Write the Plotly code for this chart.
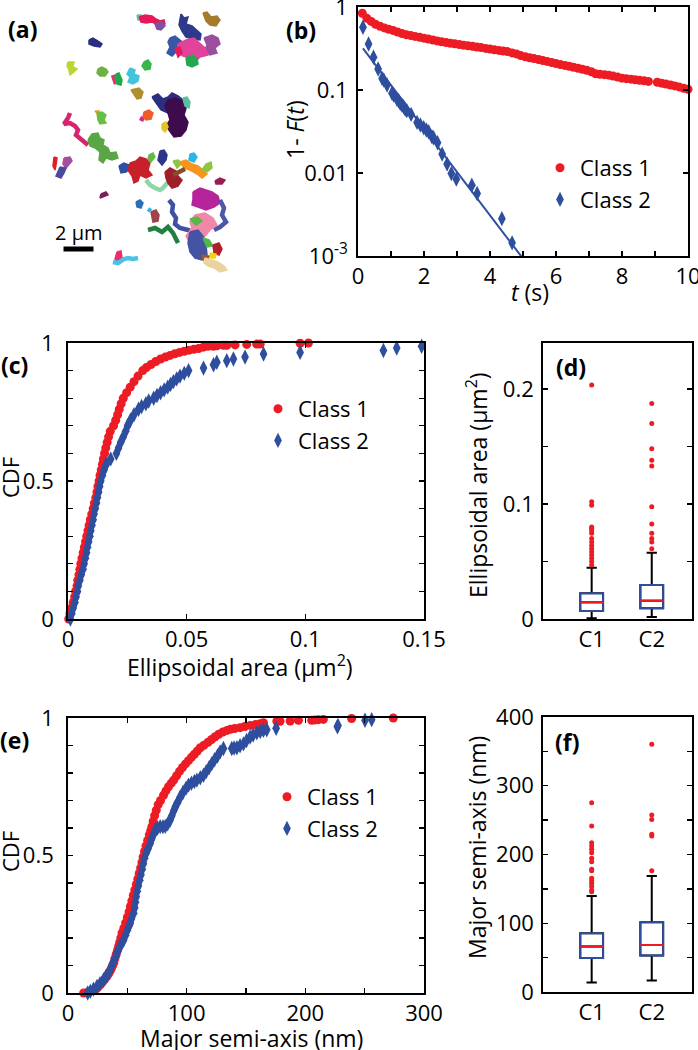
import plotly.graph_objects as go

FONT = "Open Sans"
W, H = 698, 1050
RED = "#ED1C24"
BLUE = "#2E4E9E"

# ---------------- (a) trajectories, camera-pixel coordinates ----------------
PX_PER_UM = 15
SCALEBAR_UM = 2
SCALEBAR_X0, SCALEBAR_Y = 63.5, 249
# (colour, kind: f = filled area / l = path, points)
TRACKS = [
    ("#6cc3a0", "f", [(137, 15), (141, 15), (142, 19), (138, 20)]),
    ("#e8195a", "f", [(139, 17), (145, 15), (152, 16), (156, 19), (160, 21), (164, 20), (165, 24), (158, 25), (152, 22), (146, 23), (141, 22)]),
    ("#7e52a0", "f", [(155, 24), (162, 22), (165, 26), (161, 30), (157, 29)]),
    ("#a67c2c", "f", [(203, 13), (207, 12), (211, 17), (217, 16), (220, 20), (216, 26), (210, 25), (206, 21)]),
    ("#2d3a8c", "f", [(181, 14), (184, 18), (188, 17), (186, 24), (192, 26), (196, 30), (201, 34), (200, 40), (193, 39), (186, 37), (182, 31), (179, 25)]),
    ("#3a57a7", "f", [(170, 38), (175, 36), (180, 40), (185, 44), (182, 50), (176, 52), (172, 56), (167, 53), (170, 47), (168, 42)]),
    ("#9b4ea0", "f", [(204, 38), (212, 35), (218, 38), (220, 44), (215, 48), (217, 53), (210, 55), (205, 50), (207, 45)]),
    ("#e0449a", "f", [(178, 44), (186, 40), (194, 38), (200, 44), (205, 48), (208, 55), (200, 57), (195, 62), (190, 58), (183, 56), (177, 52)]),
    ("#e8195a", "f", [(175, 48), (180, 47), (182, 53), (178, 57)]),
    ("#25a650", "f", [(186, 58), (192, 55), (197, 58), (198, 64), (192, 67), (187, 65)]),
    ("#2b2f7f", "f", [(89, 40), (93, 38), (98, 41), (102, 44), (100, 47), (94, 46), (89, 44)]),
    ("#bcd631", "f", [(68, 62), (74, 62), (73, 67), (77, 69), (74, 72), (70, 75), (69, 70), (67, 66)]),
    ("#72b043", "f", [(98, 69), (102, 67), (106, 69), (108, 72), (105, 76), (100, 76), (97, 73)]),
    ("#e8306a", "l", [(113, 75), (115, 80), (116, 84)]),
    ("#1fa84f", "f", [(116, 74), (119, 73), (122, 80), (121, 85), (117, 84), (115, 78)]),
    ("#43c3dc", "f", [(130, 68), (135, 70), (134, 74), (139, 76), (138, 81), (133, 84), (128, 82), (130, 77), (127, 74)]),
    ("#39b54a", "f", [(144, 62), (148, 60), (151, 64), (150, 69), (145, 70), (142, 66)]),
    ("#b08d2e", "f", [(131, 90), (139, 88), (143, 92), (141, 98), (137, 99)]),
    ("#2b2f7f", "f", [(152, 97), (158, 94), (163, 99), (168, 97), (172, 93), (178, 96), (183, 100), (180, 106), (175, 111), (168, 113), (161, 110), (157, 104)]),
    ("#3e0b4c", "f", [(168, 100), (175, 98), (182, 101), (186, 108), (184, 115), (188, 122), (186, 130), (181, 136), (174, 137), (170, 132), (166, 126), (170, 120), (168, 113), (165, 106)]),
    ("#59c0a0", "f", [(183, 98), (187, 97), (190, 102), (189, 108), (185, 106)]),
    ("#cc2a8e", "l", [(140, 118), (144, 120)]),
    ("#f15a29", "f", [(144, 112), (149, 110), (153, 113), (151, 119), (146, 120), (143, 117)]),
    ("#e5c61d", "f", [(162, 124), (166, 122), (168, 127), (165, 132), (162, 129)]),
    ("#f7931e", "f", [(95, 111), (99, 111), (98, 114)]),
    ("#69bd45", "f", [(97, 113), (102, 112), (106, 115), (104, 120), (106, 123), (100, 124), (98, 120)]),
    ("#d6246e", "l", [(70, 113), (68, 118), (64, 124), (70, 123), (75, 126), (78, 130), (76, 135), (80, 138), (84, 142), (88, 145)]),
    ("#5aa646", "f", [(88, 140), (92, 134), (98, 133), (100, 138), (104, 140), (103, 145), (108, 148), (110, 153), (116, 152), (118, 158), (112, 160), (106, 158), (103, 163), (99, 160), (100, 152), (95, 148), (90, 146)]),
    ("#e31e24", "f", [(54, 157), (57, 158), (56, 165), (55, 170), (53, 166)]),
    ("#a54f9f", "f", [(64, 158), (70, 157), (72, 161), (69, 165), (66, 168), (63, 164)]),
    ("#4b4aa3", "f", [(60, 167), (66, 168), (64, 173), (61, 178), (56, 176), (58, 171)]),
    ("#2e4fa2", "f", [(119, 166), (124, 163), (129, 165), (130, 169), (126, 172), (121, 173)]),
    ("#c8202a", "f", [(130, 163), (136, 161), (140, 157), (146, 159), (150, 163), (148, 170), (152, 175), (146, 178), (140, 175), (138, 181), (134, 183), (132, 176), (128, 170)]),
    ("#64b946", "f", [(149, 155), (153, 153), (155, 157), (151, 162), (148, 159)]),
    ("#2d3588", "f", [(160, 151), (164, 150), (167, 155), (166, 160), (162, 165), (158, 160)]),
    ("#29b6e8", "f", [(190, 154), (194, 153), (197, 157), (194, 162), (189, 160)]),
    ("#8cc63f", "f", [(173, 161), (178, 160), (182, 163), (177, 168)]),
    ("#f7941d", "f", [(180, 162), (186, 160), (192, 164), (198, 166), (203, 170), (207, 174), (202, 178), (197, 174), (190, 170), (184, 168)]),
    ("#8dc63f", "f", [(202, 170), (206, 164), (211, 162), (212, 168), (207, 172)]),
    ("#8fd5a6", "l", [(146, 180), (150, 185), (155, 188), (160, 190), (163, 188), (166, 184), (168, 182)]),
    ("#9e1f28", "f", [(165, 172), (170, 168), (176, 171), (178, 176), (182, 180), (178, 186), (172, 188), (168, 183), (166, 178)]),
    ("#8b4a2b", "l", [(173, 175), (178, 172), (185, 169)]),
    ("#9b1c54", "f", [(215, 181), (220, 178), (225, 180), (222, 184), (216, 184)]),
    ("#b5249a", "f", [(193, 192), (200, 188), (206, 190), (212, 192), (218, 196), (220, 203), (214, 207), (206, 210), (198, 207), (192, 205), (193, 199)]),
    ("#7b1f57", "f", [(101, 194), (106, 192), (108, 195), (103, 197), (100, 198)]),
    ("#2b6fb8", "f", [(136, 202), (140, 200), (143, 203), (141, 208), (137, 207)]),
    ("#29b6e8", "l", [(148, 209), (151, 211)]),
    ("#a0434b", "f", [(151, 212), (156, 210), (159, 215), (158, 221), (153, 222)]),
    ("#4051a3", "l", [(169, 200), (173, 205), (172, 212), (176, 218), (175, 224), (180, 228), (188, 230), (193, 232)]),
    ("#4b57a8", "l", [(220, 200), (224, 208), (222, 215), (226, 222), (220, 227), (214, 230)]),
    ("#f088a8", "f", [(195, 215), (205, 213), (213, 218), (217, 225), (210, 230), (205, 236), (200, 242), (195, 238), (190, 243), (186, 236), (192, 228), (190, 222)]),
    ("#54b848", "f", [(190, 219), (197, 217), (202, 221), (196, 225)]),
    ("#237f3f", "l", [(148, 230), (155, 228), (162, 232), (168, 227), (173, 233), (176, 240), (178, 243)]),
    ("#4453a4", "f", [(190, 232), (198, 230), (203, 236), (206, 245), (207, 255), (202, 260), (195, 258), (190, 252), (188, 243)]),
    ("#54b848", "f", [(203, 238), (209, 240), (213, 246), (207, 247)]),
    ("#b2202a", "f", [(213, 245), (219, 243), (222, 249), (219, 255), (214, 253)]),
    ("#f5d20a", "f", [(210, 253), (216, 254), (215, 258), (211, 258)]),
    ("#9c5a2c", "f", [(202, 255), (209, 256), (208, 260), (203, 260)]),
    ("#ead3a0", "f", [(205, 258), (212, 260), (218, 262), (224, 266), (227, 270), (220, 272), (214, 268), (208, 266), (204, 263)]),
    ("#e8306a", "f", [(117, 252), (121, 251), (122, 258), (119, 262), (115, 259)]),
    ("#4bc3e8", "l", [(113, 262), (118, 263), (124, 259), (128, 258), (133, 259), (138, 258)]),
]

# ---------------- (b) survival 1-F(t) ----------------
SURV_C1 = [(0.13, 0.84), (0.27, 0.73), (0.40, 0.67), (0.53, 0.62), (0.67, 0.585), (0.80, 0.56), (0.93, 0.54),
           (1.07, 0.52), (1.20, 0.50), (1.33, 0.48), (1.47, 0.462), (1.60, 0.452), (1.73, 0.442), (1.87, 0.431),
           (2.00, 0.421), (2.13, 0.411), (2.27, 0.400), (2.40, 0.390), (2.53, 0.381), (2.67, 0.373), (2.80, 0.366),
           (2.93, 0.360), (3.07, 0.353), (3.20, 0.347), (3.33, 0.341), (3.47, 0.336), (3.60, 0.330), (3.73, 0.324),
           (3.87, 0.317), (4.00, 0.311), (4.13, 0.305), (4.27, 0.300), (4.40, 0.295), (4.53, 0.290), (4.67, 0.280),
           (4.80, 0.272), (4.93, 0.260), (5.07, 0.251), (5.20, 0.245), (5.33, 0.239), (5.47, 0.233), (5.60, 0.227),
           (5.73, 0.221), (5.87, 0.214), (6.00, 0.208), (6.13, 0.203), (6.27, 0.198), (6.40, 0.193), (6.53, 0.188),
           (6.67, 0.183), (6.80, 0.178), (6.93, 0.173), (7.07, 0.166), (7.20, 0.157), (7.33, 0.155), (7.47, 0.153),
           (7.60, 0.151), (7.73, 0.147), (7.87, 0.143), (8.00, 0.139), (8.13, 0.137), (8.27, 0.135), (8.40, 0.133),
           (8.53, 0.131), (8.67, 0.129), (8.80, 0.127), (9.07, 0.124), (9.20, 0.121), (9.33, 0.118), (9.47, 0.115),
           (9.60, 0.112), (9.73, 0.109), (9.87, 0.105), (10.00, 0.102)]
SURV_C2 = [(0.15, 0.571), (0.32, 0.359), (0.47, 0.248), (0.61, 0.179), (0.73, 0.138), (0.78, 0.132), (0.88, 0.115),
           (1.03, 0.0912), (1.08, 0.0871), (1.18, 0.0771), (1.23, 0.0743), (1.28, 0.0690), (1.33, 0.0659),
           (1.38, 0.0629), (1.43, 0.0585), (1.48, 0.0564), (1.61, 0.0508), (1.79, 0.0407), (1.89, 0.0378),
           (1.99, 0.0351), (2.07, 0.0329), (2.14, 0.0314), (2.24, 0.0273), (2.29, 0.0266), (2.41, 0.0231),
           (2.55, 0.0169), (2.70, 0.0128), (2.83, 0.00986), (2.98, 0.00843), (3.45, 0.00713), (3.61, 0.00566),
           (4.36, 0.00282), (4.67, 0.00144)]
FIT_C2_T = [0.15, 5.0]
FIT_C2_Y = [0.318, 0.00093]

# ---------------- (c) CDF of ellipsoidal area (um^2) ----------------
AREA_CDF_C1 = [(0.0003, 0.00), (0.0008, 0.02), (0.0015, 0.04), (0.0022, 0.06), (0.0028, 0.08), (0.0032, 0.10),
               (0.0038, 0.12), (0.0041, 0.14), (0.0046, 0.16), (0.0050, 0.18), (0.0054, 0.20), (0.0059, 0.22),
               (0.0064, 0.24), (0.0069, 0.26), (0.0074, 0.28), (0.0079, 0.30), (0.0084, 0.32), (0.0089, 0.34),
               (0.0094, 0.36), (0.0100, 0.38), (0.0106, 0.40), (0.0111, 0.42), (0.0117, 0.44), (0.0122, 0.46),
               (0.0126, 0.48), (0.0131, 0.50), (0.0135, 0.52), (0.0140, 0.54), (0.0145, 0.56), (0.0149, 0.58),
               (0.0154, 0.60), (0.0159, 0.62), (0.0165, 0.64), (0.0171, 0.66), (0.0178, 0.68), (0.0192, 0.70),
               (0.0201, 0.72), (0.0209, 0.74), (0.0216, 0.76), (0.0224, 0.78), (0.0233, 0.80), (0.0247, 0.82),
               (0.0262, 0.84), (0.0278, 0.86), (0.0295, 0.88), (0.0315, 0.90), (0.0330, 0.911), (0.0350, 0.922),
               (0.0370, 0.933), (0.0390, 0.942), (0.0410, 0.949), (0.0430, 0.955), (0.0450, 0.961), (0.0470, 0.966),
               (0.0490, 0.970), (0.0510, 0.974), (0.0530, 0.977), (0.0550, 0.980), (0.0570, 0.985), (0.0590, 0.988),
               (0.0613, 0.988), (0.0627, 0.990), (0.0655, 0.992), (0.0669, 0.992), (0.0704, 0.993), (0.0753, 0.995),
               (0.0795, 0.996), (0.0810, 0.996), (0.0978, 0.999), (0.1013, 1.0)]
AREA_CDF_C2 = [(0.0010, 0.00), (0.0016, 0.02), (0.0022, 0.04), (0.0029, 0.06), (0.0034, 0.08), (0.0040, 0.10),
               (0.0043, 0.12), (0.0050, 0.14), (0.0056, 0.16), (0.0063, 0.18), (0.0068, 0.20), (0.0073, 0.22),
               (0.0078, 0.24), (0.0082, 0.26), (0.0087, 0.28), (0.0092, 0.30), (0.0096, 0.32), (0.0101, 0.34),
               (0.0106, 0.36), (0.0110, 0.38), (0.0115, 0.40), (0.0120, 0.42), (0.0124, 0.44), (0.0129, 0.46),
               (0.0133, 0.48), (0.0138, 0.50), (0.0145, 0.52), (0.0152, 0.54), (0.0161, 0.56), (0.0180, 0.58),
               (0.0204, 0.60), (0.0213, 0.62), (0.0222, 0.64), (0.0233, 0.66), (0.0243, 0.68), (0.0251, 0.70),
               (0.0263, 0.72), (0.0278, 0.74), (0.0297, 0.76), (0.0310, 0.77), (0.0328, 0.78), (0.0340, 0.79),
               (0.0361, 0.80), (0.0375, 0.81), (0.0390, 0.82), (0.0405, 0.83), (0.0420, 0.84), (0.0432, 0.85),
               (0.0444, 0.86), (0.0458, 0.87), (0.0472, 0.88), (0.0490, 0.89), (0.0508, 0.90), (0.0571, 0.909),
               (0.0613, 0.921), (0.0627, 0.930), (0.0669, 0.936), (0.0697, 0.942), (0.0746, 0.949), (0.0824, 0.960),
               (0.0978, 0.966), (0.1329, 0.973), (0.1385, 0.982), (0.1490, 0.988)]

# ---------------- (e) CDF of major semi-axis (nm) ----------------
SEMI_CDF_C1 = [(13.2, 0.000), (17, 0.004), (20, 0.008), (23, 0.012), (25, 0.020), (27.2, 0.030), (29, 0.040),
               (31, 0.050), (32.8, 0.060), (34.2, 0.070), (35.5, 0.080), (36.6, 0.090), (37.6, 0.100), (38.6, 0.110),
               (39.5, 0.125), (40.6, 0.140), (41.7, 0.155), (42.7, 0.170), (43.6, 0.185), (44.5, 0.200), (45.5, 0.218),
               (47, 0.235), (48.5, 0.255), (50, 0.275), (51.4, 0.295), (52.6, 0.315), (53.8, 0.335), (55, 0.355),
               (56.3, 0.375), (57.6, 0.395), (58.8, 0.415), (60, 0.435), (61.2, 0.455), (62.3, 0.475), (63.3, 0.495),
               (64.5, 0.515), (65.7, 0.535), (67.1, 0.555), (68.5, 0.575), (69.7, 0.59), (70.7, 0.605), (71.8, 0.625),
               (73, 0.645), (74.4, 0.665), (76, 0.685), (78, 0.70), (80.5, 0.719), (82.5, 0.735), (84.7, 0.750),
               (87, 0.763), (89, 0.774), (91.5, 0.79), (94, 0.806), (96.5, 0.82), (99, 0.833), (101.5, 0.845),
               (104, 0.857), (106.5, 0.868), (109, 0.880), (111.5, 0.892), (114.5, 0.901), (118, 0.912), (121, 0.922),
               (124, 0.932), (127, 0.941), (130.5, 0.949), (134, 0.955), (137, 0.959), (140.5, 0.962), (145, 0.965),
               (149, 0.969), (153.5, 0.973), (158, 0.976), (162, 0.979), (164.7, 0.983), (176, 0.988), (178.7, 0.988),
               (187.2, 0.989), (194.2, 0.992), (205.4, 0.992), (208, 0.993), (211, 0.994), (215.2, 0.995),
               (239, 0.998), (274.1, 1.0)]
SEMI_CDF_C2 = [(16.6, 0.000), (18.8, 0.006), (21.5, 0.014), (24.4, 0.024), (27, 0.034), (30, 0.048), (32, 0.060),
               (34, 0.072), (35.6, 0.085), (37, 0.100), (38.5, 0.115), (40, 0.130), (41.2, 0.145), (42.8, 0.16),
               (44.5, 0.175), (46.9, 0.193), (48.5, 0.21), (50, 0.228), (51.5, 0.245), (52.5, 0.254), (53.5, 0.27),
               (55.3, 0.29), (56.2, 0.31), (56.8, 0.33), (57.5, 0.35), (58.3, 0.37), (59.3, 0.39), (60.4, 0.41),
               (61.5, 0.43), (62.5, 0.45), (63.5, 0.47), (64.5, 0.49), (66, 0.51), (67.5, 0.525), (69.3, 0.544),
               (70.5, 0.56), (72, 0.576), (73.5, 0.592), (75.5, 0.600), (77.7, 0.605), (80, 0.605), (82, 0.606),
               (84, 0.615), (86.1, 0.629), (87.5, 0.645), (89, 0.662), (90.4, 0.677), (92, 0.69), (94.6, 0.713),
               (97, 0.73), (99.5, 0.745), (101.6, 0.756), (104, 0.763), (106.5, 0.769), (108.6, 0.774), (111.5, 0.783),
               (114.2, 0.792), (116.5, 0.805), (119, 0.82), (121.2, 0.834), (123.5, 0.848), (126, 0.862),
               (128.2, 0.877), (131, 0.889), (138, 0.889), (140, 0.891), (142.3, 0.892), (145, 0.899), (147.9, 0.906),
               (150.5, 0.918), (153.5, 0.931), (156, 0.938), (159.1, 0.946), (162, 0.951), (164.7, 0.955),
               (167.5, 0.957), (175.4, 0.963), (227, 0.968), (227.5, 0.973), (250.3, 0.992), (255.9, 0.994)]

# ---------------- (d) / (f) box statistics ----------------
BOX_LABELS = ["C1", "C2"]
BOX_POS = [1, 2]
AREA_Q1 = [0.0070, 0.0093]
AREA_MED = [0.0145, 0.0159]
AREA_Q3 = [0.0223, 0.0296]
AREA_LO = [0.0006, 0.0017]
AREA_HI = [0.0446, 0.0577]
AREA_OUT = [
    [0.2035, 0.102, 0.099, 0.080, 0.079, 0.077, 0.0745, 0.070, 0.067, 0.064, 0.061, 0.0585, 0.0557, 0.0528, 0.050, 0.047],
    [0.1875, 0.170, 0.148, 0.138, 0.133, 0.0977, 0.0826, 0.0745, 0.070, 0.067, 0.061],
]
SEMI_Q1 = [49.3, 53.2]
SEMI_MED = [66.3, 68.2]
SEMI_Q3 = [85.6, 101.6]
SEMI_LO = [14.0, 16.9]
SEMI_HI = [139.8, 168.8]
SEMI_OUT = [
    [275.2, 241.4, 217.2, 212.3, 207.5, 202.7, 194.4, 189.6, 178.5, 176.5, 165.4, 162.0, 158.2, 153.3, 148.5, 146.0],
    [360.4, 257.3, 251.0, 229.3, 226.9, 176.5],
]

# axis ticks (major = labelled, minor = unlabelled)
B_XT = [0, 2, 4, 6, 8, 10]
B_XT_MINOR = [1, 3, 5, 7, 9]
B_YT = [0.001, 0.01, 0.1, 1]
B_YTEXT = ["10<sup>-3</sup>", "0.01", "0.1", "1"]
CDF_YT = [0, 0.5, 1]
CDF_YT_MINOR = [0.1, 0.2, 0.3, 0.4, 0.6, 0.7, 0.8, 0.9]
C_XT = [0, 0.05, 0.1, 0.15]
E_XT = [0, 100, 200, 300]
E_XT_MINOR = [50, 150, 250]
D_YT = [0, 0.1, 0.2]
D_YT_MINOR = [0.05, 0.15]
F_YT = [0, 100, 200, 300, 400]
F_YT_MINOR = [50, 150, 250, 350]


def dx(p0, p1):
    return [p0 / W, p1 / W]


def dy(p0, p1):
    return [1 - p1 / H, 1 - p0 / H]


def unzip(pairs):
    return [p[0] for p in pairs], [p[1] for p in pairs]


fig = go.Figure()

# (a)
for col, kind, pts in TRACKS:
    xs, ys = unzip(pts)
    if kind == "f":
        fig.add_trace(go.Scatter(x=xs + [xs[0]], y=ys + [ys[0]], mode="lines", fill="toself", fillcolor=col,
                                 line=dict(color=col, width=1.5), hoverinfo="skip", showlegend=False,
                                 xaxis="x", yaxis="y"))
    else:
        fig.add_trace(go.Scatter(x=xs, y=ys, mode="lines", line=dict(color=col, width=4.5),
                                 hoverinfo="skip", showlegend=False, xaxis="x", yaxis="y"))

# (b)
t1, y1 = unzip(SURV_C1)
t2, y2 = unzip(SURV_C2)
fig.add_trace(go.Scatter(x=t1, y=y1, mode="markers", name="Class 1", legend="legend",
                         marker=dict(symbol="circle", size=9, color=RED), cliponaxis=False, xaxis="x2", yaxis="y2"))
fig.add_trace(go.Scatter(x=t2, y=y2, mode="markers", name="Class 2", legend="legend",
                         marker=dict(symbol="diamond-tall", size=11, color=BLUE), cliponaxis=False,
                         xaxis="x2", yaxis="y2"))
fig.add_trace(go.Scatter(x=FIT_C2_T, y=FIT_C2_Y, mode="lines", line=dict(color=BLUE, width=2),
                         showlegend=False, xaxis="x2", yaxis="y2"))

# (c), (e)
for data, ax_x, ax_y, leg in [(AREA_CDF_C1, "x3", "y3", "legend2"), (SEMI_CDF_C1, "x5", "y5", "legend3")]:
    xs, ys = unzip(data)
    fig.add_trace(go.Scatter(x=xs, y=ys, mode="markers", name="Class 1", legend=leg, cliponaxis=False,
                             marker=dict(symbol="circle", size=9, color=RED), xaxis=ax_x, yaxis=ax_y))
for data, ax_x, ax_y, leg in [(AREA_CDF_C2, "x3", "y3", "legend2"), (SEMI_CDF_C2, "x5", "y5", "legend3")]:
    xs, ys = unzip(data)
    fig.add_trace(go.Scatter(x=xs, y=ys, mode="markers", name="Class 2", legend=leg, cliponaxis=False,
                             marker=dict(symbol="diamond-tall", size=11, color=BLUE), xaxis=ax_x, yaxis=ax_y))


# (d), (f) boxes
def add_boxes(q1, med, q3, lo, hi, outs, ax_x, ax_y):
    for i, pos in enumerate(BOX_POS):
        common = dict(x=[pos], width=0.38, boxpoints=False, showlegend=False, hoverinfo="skip",
                      xaxis=ax_x, yaxis=ax_y)
        fig.add_trace(go.Box(q1=[q1[i]], median=[med[i]], q3=[q3[i]], lowerfence=[lo[i]], upperfence=[hi[i]],
                             whiskerwidth=0.45, line=dict(color="black", width=2), fillcolor="white", **common))
        fig.add_trace(go.Box(q1=[q1[i]], median=[med[i]], q3=[q3[i]], lowerfence=[q1[i]], upperfence=[q3[i]],
                             whiskerwidth=0, line=dict(color=BLUE, width=2), fillcolor="rgba(0,0,0,0)", **common))
        fig.add_trace(go.Box(q1=[med[i]], median=[med[i]], q3=[med[i]], lowerfence=[med[i]], upperfence=[med[i]],
                             whiskerwidth=0, line=dict(color=RED, width=2), fillcolor="rgba(0,0,0,0)", **common))
        fig.add_trace(go.Scatter(x=[pos] * len(outs[i]), y=outs[i], mode="markers", showlegend=False,
                                 marker=dict(symbol="circle", size=5, color=RED), cliponaxis=False,
                                 xaxis=ax_x, yaxis=ax_y))


add_boxes(AREA_Q1, AREA_MED, AREA_Q3, AREA_LO, AREA_HI, AREA_OUT, "x4", "y4")
add_boxes(SEMI_Q1, SEMI_MED, SEMI_Q3, SEMI_LO, SEMI_HI, SEMI_OUT, "x6", "y6")

TICKFONT = dict(family=FONT, size=22, color="black")


def axis(minor_vals=None, **kw):
    base = dict(showline=True, linecolor="black", linewidth=1.8, mirror="ticks", ticks="inside", ticklen=5,
                tickwidth=1.4, tickcolor="black", showgrid=False, zeroline=False, tickfont=TICKFONT,
                automargin=False, ticklabeloverflow="allow")
    if minor_vals:
        base["minor"] = dict(tickvals=minor_vals, ticks="inside", ticklen=5, tickwidth=1.4, tickcolor="black",
                             showgrid=False)
    base.update(kw)
    return base


fig.update_layout(
    width=W, height=H, autosize=False, margin=dict(l=0, r=0, t=0, b=0, autoexpand=False),
    paper_bgcolor="white", plot_bgcolor="white", boxmode="overlay",
    font=dict(family=FONT, size=22, color="black"),
    xaxis=dict(domain=dx(0, 245), range=[0, 245], visible=False, automargin=False),
    yaxis=dict(domain=dy(0, 285), range=[285, 0], visible=False, automargin=False),
    xaxis2=axis(B_XT_MINOR, domain=dx(358, 688), range=[0, 10], tickvals=B_XT,
                ticktext=[str(v) for v in B_XT], anchor="y2"),
    yaxis2=axis(None, domain=dy(7, 256), type="log", range=[-3, 0], tickvals=B_YT,
                ticktext=B_YTEXT, anchor="x2", ticklabelstandoff=4),
    xaxis3=axis(None, domain=dx(68, 424), range=[0, 0.15], tickvals=C_XT,
                ticktext=[str(v) for v in C_XT], anchor="y3"),
    yaxis3=axis(CDF_YT_MINOR, domain=dy(343, 619), range=[0, 1], tickvals=CDF_YT,
                ticktext=[str(v) for v in CDF_YT], anchor="x3", ticklabelstandoff=8),
    xaxis4=axis(None, domain=dx(543, 692), range=[0.19, 2.67], tickvals=BOX_POS, ticktext=BOX_LABELS, ticks="",
                anchor="y4"),
    yaxis4=axis(D_YT_MINOR, domain=dy(343, 619), range=[0, 0.24], tickvals=D_YT,
                ticktext=[str(v) for v in D_YT], anchor="x4", ticklabelstandoff=3),
    xaxis5=axis(E_XT_MINOR, domain=dx(68, 424), range=[0, 300], tickvals=E_XT,
                ticktext=[str(v) for v in E_XT], anchor="y5"),
    yaxis5=axis(CDF_YT_MINOR, domain=dy(718, 993), range=[0, 1], tickvals=CDF_YT,
                ticktext=[str(v) for v in CDF_YT], anchor="x5", ticklabelstandoff=8),
    xaxis6=axis(None, domain=dx(543, 692), range=[0.19, 2.67], tickvals=BOX_POS, ticktext=BOX_LABELS, ticks="",
                anchor="y6"),
    yaxis6=axis(F_YT_MINOR, domain=dy(717, 992), range=[0, 400], tickvals=F_YT,
                ticktext=[str(v) for v in F_YT], anchor="x6", ticklabelstandoff=3),
)

LEG = dict(xanchor="left", yanchor="top", bgcolor="rgba(0,0,0,0)", font=dict(family=FONT, size=22, color="black"),
           tracegroupgap=0, itemsizing="trace")
fig.update_layout(
    legend=dict(x=540 / W, y=1 - 147 / H, **LEG),
    legend2=dict(x=258 / W, y=1 - 388 / H, **LEG),
    legend3=dict(x=267 / W, y=1 - 776 / H, **LEG),
)

# scale bar for (a)
fig.add_shape(type="line", xref="x", yref="y", x0=SCALEBAR_X0, x1=SCALEBAR_X0 + SCALEBAR_UM * PX_PER_UM,
              y0=SCALEBAR_Y, y1=SCALEBAR_Y, line=dict(color="black", width=5))
fig.add_annotation(x=SCALEBAR_X0 + SCALEBAR_UM * PX_PER_UM / 2, y=232, xref="x", yref="y",
                   text=f"{SCALEBAR_UM} μm", showarrow=False, font=dict(family=FONT, size=20, color="black"))


def ann(text, px, py, size=23, angle=0, bold=False):
    if bold:
        text = f"<b>{text}</b>"
    fig.add_annotation(x=px / W, y=1 - py / H, xref="paper", yref="paper", text=text, showarrow=False,
                       textangle=angle, xanchor="center", yanchor="middle",
                       font=dict(family=FONT, size=size, color="black"))


for lab, px, py in [("(a)", 23, 29), ("(b)", 301, 30), ("(c)", 14, 365), ("(d)", 571, 367), ("(e)", 14, 740),
                    ("(f)", 567, 742)]:
    ann(lab, px, py, size=23, bold=True)

ann("1- <i>F</i>(<i>t</i>)", 295, 130, angle=-90)
ann("<i>t</i> (s)", 530, 292)
ann("CDF", 10, 478, size=22, angle=-90)
ann("Ellipsoidal area (μm<sup>2</sup>)", 240, 666)
ann("Ellipsoidal area (μm<sup>2</sup>)", 477, 485, angle=-90)
ann("CDF", 10, 852, size=22, angle=-90)
ann("Major semi-axis (nm)", 251, 1038)
ann("Major semi-axis (nm)", 477, 848, angle=-90)

fig.write_html("out.html", config={"displayModeBar": False, "staticPlot": True},
               post_script="document.body.style.margin='0';document.body.style.overflow='hidden';")
